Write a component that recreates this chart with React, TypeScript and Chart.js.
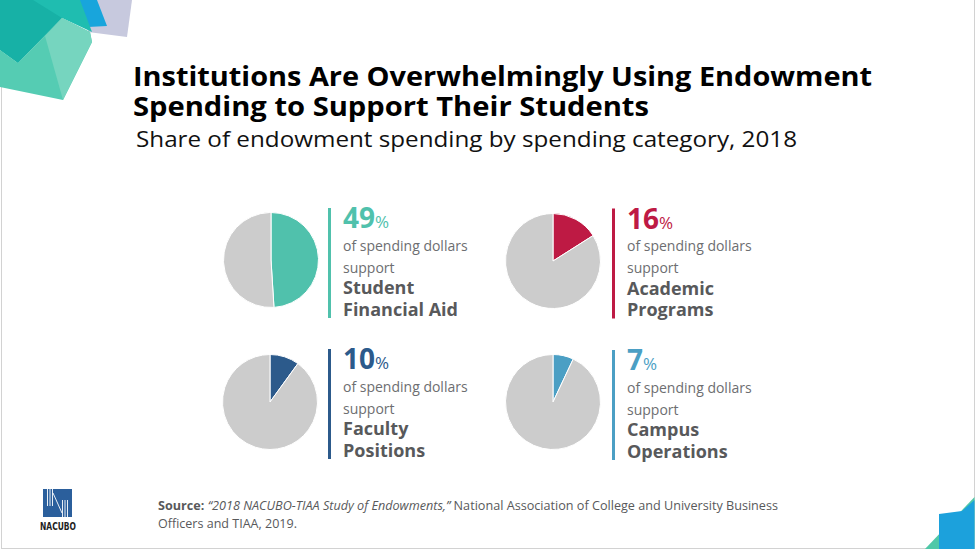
import React, { useEffect, useRef } from "react";
import { Chart, registerables } from "chart.js";

Chart.register(...registerables);

// Endowment spending shares, 2018
const categories = ["Student Financial Aid", "Academic Programs", "Faculty Positions", "Campus Operations"];
const categoryLines = [
  ["Student", "Financial Aid"],
  ["Academic", "Programs"],
  ["Faculty", "Positions"],
  ["Campus", "Operations"],
];
const shares = [49, 16, 10, 7];
const sliceColors = ["#50c1ac", "#be1a44", "#2c5a8b", "#4b9fc4"];
const remainderColor = "#cccccc";

const titleLines = [
  "Institutions Are Overwhelmingly Using Endowment",
  "Spending to Support Their Students",
];
const subtitle = "Share of endowment spending by spending category, 2018";
const supportText = ["of spending dollars", "support"];

// Panel layout: pie centres and text block anchors (left x, percent baseline)
const panels = [
  { cx: 270.5, cy: 260, barX: 328, textX: 343, base: 228 },
  { cx: 552.5, cy: 260.5, barX: 612, textX: 627, base: 228.5 },
  { cx: 269.5, cy: 401.5, barX: 328, textX: 343, base: 369 },
  { cx: 552.5, cy: 402, barX: 612, textX: 627, base: 370 },
];

const PIE = 96;
const FONT = "'Open Sans', 'Noto Sans', sans-serif";
const GRAY = "#6d6e71";
const DARK_GRAY = "#58595b";

function PieChart({ index }: { index: number }) {
  const ref = useRef<HTMLCanvasElement>(null);
  const p = panels[index];
  useEffect(() => {
    const chart = new Chart(ref.current!, {
      type: "pie",
      data: {
        labels: [categories[index], "Other"],
        datasets: [
          {
            data: [shares[index], 100 - shares[index]],
            backgroundColor: [sliceColors[index], remainderColor],
            borderColor: "#ffffff",
            borderWidth: 1,
          },
        ],
      },
      options: {
        responsive: false,
        animation: false,
        events: [],
        layout: { padding: 0 },
        plugins: { legend: { display: false }, tooltip: { enabled: false } },
      },
    });
    return () => chart.destroy();
  }, [index]);
  return (
    <canvas
      ref={ref}
      width={PIE}
      height={PIE}
      style={{ position: "absolute", left: p.cx - PIE / 2, top: p.cy - PIE / 2, width: PIE, height: PIE }}
    />
  );
}

function PanelText({ index }: { index: number }) {
  const p = panels[index];
  const color = sliceColors[index];
  return (
    <g>
      <rect x={p.barX} y={p.base - 20} width={3} height={110} fill={color} />
      <text x={p.textX} y={p.base} fill={color} fontFamily={FONT}>
        <tspan fontSize={28} fontWeight={700}>{shares[index]}</tspan>
        <tspan fontSize={17} fontWeight={400}>%</tspan>
      </text>
      <text x={p.textX} y={p.base + 22.5} fill={GRAY} fontFamily={FONT} fontSize={14}>
        {supportText[0]}
      </text>
      <text x={p.textX} y={p.base + 44.5} fill={GRAY} fontFamily={FONT} fontSize={14}>
        {supportText[1]}
      </text>
      <text x={p.textX} y={p.base + 66} fill={DARK_GRAY} fontFamily={FONT} fontSize={18} fontWeight={700}>
        {categoryLines[index][0]}
      </text>
      <text x={p.textX} y={p.base + 87.5} fill={DARK_GRAY} fontFamily={FONT} fontSize={18} fontWeight={700}>
        {categoryLines[index][1]}
      </text>
    </g>
  );
}

function Decorations() {
  return (
    <g>
      {/* slide frame */}
      <rect x={1.5} y={-1} width={973} height={549.5} fill="none" stroke="#d2d2d2" strokeWidth={1} />
      {/* top-left facets */}
      <polygon points="88,0 132,0 127,37 88,32" fill="#c7c9de" />
      <polygon points="76,0 97,0 107,26 88,27" fill="#18a5dc" />
      <polygon points="0,0 80,0 92,32 62,18 18,63 0,50" fill="#1fbdb0" />
      <polygon points="0,0 33,0 62,18 18,63 0,50" fill="#17b1a6" />
      <polygon points="0,50 18,63 62,18 90,32 92,42 63,100 0,87" fill="#55ccb3" />
      <polygon points="45,36 62,18 90,32 92,42 63,100" fill="#76d5bf" />
      {/* bottom-right facets */}
      <polygon points="925,549 974.5,497 974.5,549" fill="#4fc8a8" />
      <polygon points="939,514 962,511 974.5,500 974.5,549 939,549" fill="#1ca1dc" />
      {/* NACUBO mark */}
      <rect x={43} y={489} width={29} height={28} fill="#2b5f9c" />
      {[47.5, 50, 52.5].map((x) => (
        <line key={"a" + x} x1={x} y1={489} x2={x} y2={506} stroke="#ffffff" strokeWidth={0.9} />
      ))}
      {[62.5, 65, 67.5].map((x) => (
        <line key={"b" + x} x1={x} y1={500} x2={x} y2={517} stroke="#ffffff" strokeWidth={0.9} />
      ))}
      <line x1={53} y1={493} x2={62} y2={513} stroke="#ffffff" strokeWidth={0.9} />
      <text
        x={40}
        y={529.5}
        fontFamily="'Liberation Sans Narrow', 'DejaVu Sans Condensed', sans-serif"
        fontSize={10.5}
        fontWeight={700}
        fill="#1e1e1e"
        textLength={36}
        lengthAdjust="spacingAndGlyphs"
      >
        NACUBO
      </text>
    </g>
  );
}

export default function App() {
  return (
    <div
      style={{
        position: "absolute",
        left: 0,
        top: 0,
        width: 977,
        height: 551,
        background: "#ffffff",
        overflow: "hidden",
      }}
    >
      <svg width={977} height={551} style={{ position: "absolute", left: 0, top: 0 }}>
        <Decorations />
        <text
          x={133}
          y={86}
          fontFamily={FONT}
          fontSize={26}
          fontWeight={700}
          fill="#000000"
          textLength={739}
          lengthAdjust="spacingAndGlyphs"
        >
          {titleLines[0]}
        </text>
        <text
          x={133}
          y={115.5}
          fontFamily={FONT}
          fontSize={26}
          fontWeight={700}
          fill="#000000"
          textLength={516}
          lengthAdjust="spacingAndGlyphs"
        >
          {titleLines[1]}
        </text>
        <text
          x={136}
          y={147}
          fontFamily={FONT}
          fontSize={21}
          fill="#111111"
          textLength={661}
          lengthAdjust="spacingAndGlyphs"
        >
          {subtitle}
        </text>
        {panels.map((_, i) => (
          <PanelText key={i} index={i} />
        ))}
        <text
          x={158}
          y={509.5}
          fontFamily={FONT}
          fontSize={12.5}
          fill={DARK_GRAY}
          textLength={620}
          lengthAdjust="spacingAndGlyphs"
        >
          <tspan fontWeight={700}>Source:</tspan>
          <tspan fontStyle="italic"> “2018 NACUBO-TIAA Study of Endowments,”</tspan>
          <tspan> National Association of College and University Business</tspan>
        </text>
        <text
          x={158}
          y={527.5}
          fontFamily={FONT}
          fontSize={12.5}
          fill={DARK_GRAY}
          textLength={139}
          lengthAdjust="spacingAndGlyphs"
        >
          Officers and TIAA, 2019.
        </text>
      </svg>
      {panels.map((_, i) => (
        <PieChart key={i} index={i} />
      ))}
    </div>
  );
}
